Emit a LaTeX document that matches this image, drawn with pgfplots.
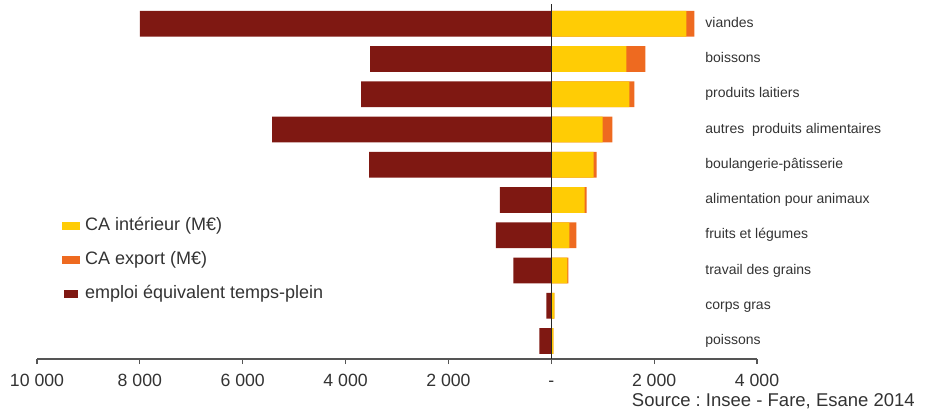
\documentclass[border=0pt]{standalone}
\usepackage{pgfplots}
\usepackage{pgfplotstable}
\pgfplotsset{compat=1.18}
\usepackage{fontspec}
\setmainfont{Liberation Sans}
\frenchspacing
\definecolor{emp}{HTML}{7F1812}
\definecolor{cai}{HTML}{FFCC05}
\definecolor{cae}{HTML}{EE6A20}
\definecolor{txt}{HTML}{333333}
\definecolor{axl}{HTML}{555555}
\pgfplotsset{smallbox legend/.style={legend image code/.code={\fill[##1] (1.5bp,-4bp) rectangle (16bp,4bp);}}}
\pgfplotstableread{
idx emploi interieur export
0 233 39 0
1 97 58 0
2 738 311 19
3 1078 350 136
4 1000 647 39
5 3544 821 59
6 5427 996 194
7 3700 1520 97
8 3524 1462 369
9 8000 2627 156
}\data
\begin{document}
\begin{tikzpicture}
\begin{axis}[
  scale only axis, width=720bp, height=355bp,
  xmin=-10000, xmax=4000, ymin=-0.51, ymax=9.56,
  axis y line=none, axis x line*=bottom,
  x axis line style={axl, line width=1.8bp, -},
  xtick={-10000,-8000,...,4000},
  xticklabels={10 000,8 000,6 000,4 000,2 000,-,2 000,4 000},
  xtick style={axl, line width=1.2bp},
  tick align=outside, major tick length=5bp,
  xticklabel style={font=\fontsize{17.7bp}{20bp}\selectfont, text=txt, anchor=base, yshift=-22bp},
  xbar, bar shift=0pt, bar width=25.7bp,
  clip=false,
  reverse legend,
  legend cell align=left,
  legend image code/.code={\fill[#1] (0bp,-4bp) rectangle (18bp,4bp);},
  legend style={at={(rel axis cs:0.0347,0.4)}, anchor=north west, draw=none, fill=none,
    font=\fontsize{18bp}{20bp}\selectfont, text=txt, row sep=17bp, column sep=5bp, inner sep=0pt,
    nodes={inner sep=0pt, text height=13bp, text depth=4bp}},
]
\addplot[fill=emp, draw=none, smallbox legend] table[x expr=-\thisrow{emploi}, y=idx] {\data};
\addlegendentry{emploi équivalent temps-plein}
\addplot[fill=cae, draw=none] table[x expr=\thisrow{interieur}+\thisrow{export}, y=idx] {\data};
\addlegendentry{CA export (M€)}
\addplot[fill=cai, draw=none] table[x=interieur, y=idx] {\data};
\addlegendentry{CA intérieur (M€)}
\draw[black!85, line width=1.5bp] (axis cs:0,-0.51) -- (axis cs:0,9.56);
\begin{scope}[every node/.style={anchor=west, font=\fontsize{14bp}{16bp}\selectfont, text=txt, text height=10bp, text depth=3bp, inner sep=0pt}]
\node at (axis cs:2993,9) {viandes};
\node at (axis cs:2993,8) {boissons};
\node at (axis cs:2993,7) {produits laitiers};
\node at (axis cs:2993,6) {autres\ \ produits alimentaires};
\node at (axis cs:2993,5) {boulangerie-pâtisserie};
\node at (axis cs:2993,4) {alimentation pour animaux};
\node at (axis cs:2993,3) {fruits et légumes};
\node at (axis cs:2993,2) {travail des grains};
\node at (axis cs:2993,1) {corps gras};
\node at (axis cs:2993,0) {poissons};
\end{scope}
\node[anchor=base east, inner sep=0pt, font=\fontsize{18.5bp}{20bp}\selectfont, text=txt] at (rel axis cs:1.2194,-0.1352) {Source : Insee - Fare, Esane 2014};
\coordinate (ll) at (rel axis cs:0,0);
\coordinate (ur) at (rel axis cs:1,1);
\end{axis}
\pgfresetboundingbox
\path ([xshift=-37bp,yshift=-56bp]ll) rectangle ([xshift=179bp,yshift=4bp]ur);
\end{tikzpicture}
\end{document}
